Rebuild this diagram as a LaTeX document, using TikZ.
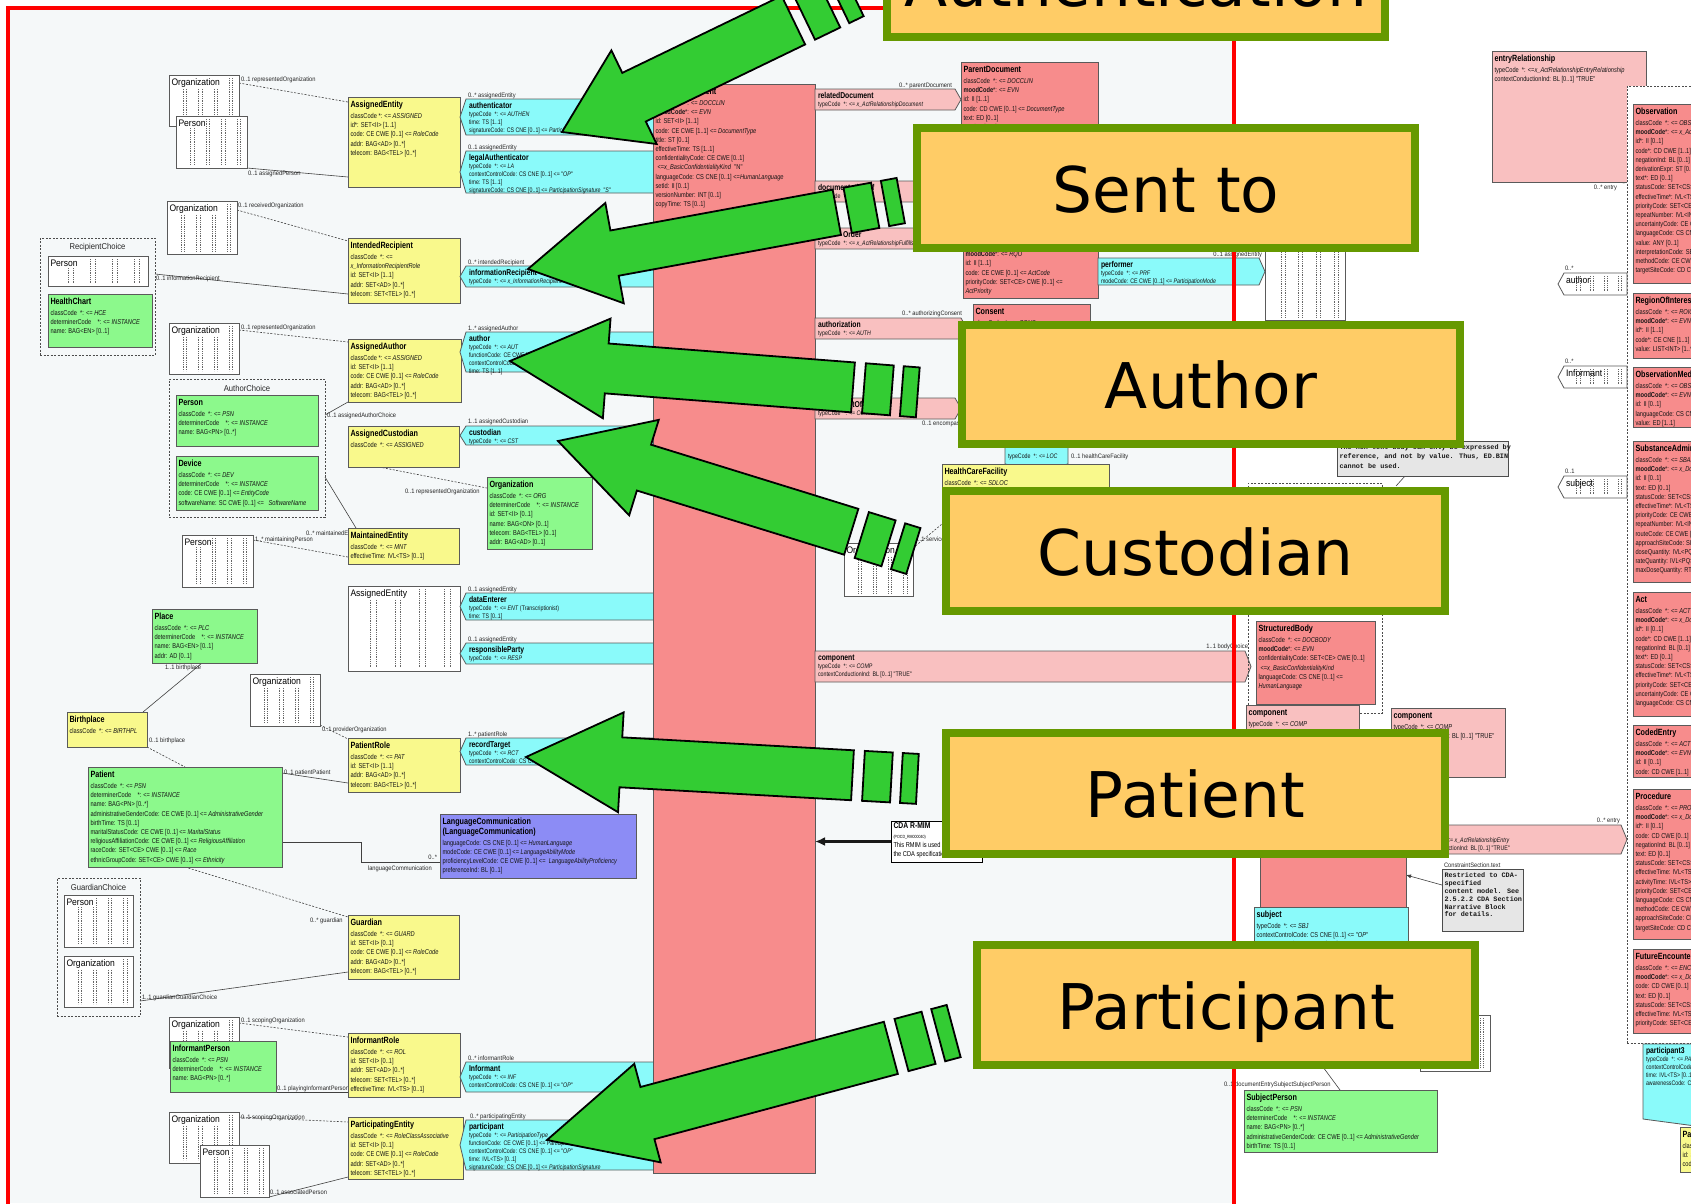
\documentclass[tikz,border=0pt]{standalone}
\usepackage{fontspec}
\setmainfont{Liberation Sans}
\newfontfamily\narrowf[FakeStretch=0.8]{Liberation Sans}
\newfontfamily\lblf[FakeStretch=0.9]{Liberation Sans}
\newfontfamily\calloutf{DejaVu Sans}
\newfontfamily\notef{Liberation Mono}
\usetikzlibrary{calc,arrows.meta}
\pgfdeclarelayer{bglayer}
\pgfdeclarelayer{linklayer}
\pgfdeclarelayer{toplayer}
\pgfsetlayers{bglayer,linklayer,main,toplayer}

\definecolor{panel}{HTML}{F5F8F9}
\definecolor{framered}{HTML}{FF0000}
\definecolor{clsyellow}{HTML}{F9F98C}
\definecolor{clsgreen}{HTML}{8CF98C}
\definecolor{clscyan}{HTML}{8AFAFA}
\definecolor{clspink}{HTML}{F78C8C}
\definecolor{clslpink}{HTML}{F9C0C0}
\definecolor{clsviolet}{HTML}{8C8CF5}
\definecolor{notegray}{HTML}{E6E6E6}
\definecolor{boxline}{HTML}{5A5A5A}
\definecolor{arrowgreen}{HTML}{33CC33}
\definecolor{calloutfill}{HTML}{FFCC66}
\definecolor{calloutline}{HTML}{669900}

\newcommand\ttlfont{\narrowf\bfseries\fontsize{9}{10}\selectfont}
\newcommand\attfont{\narrowf\fontsize{7.1}{9.2}\selectfont}
\newcommand\ptlfont{\narrowf\bfseries\fontsize{8.5}{9}\selectfont}
\newcommand\patfont{\narrowf\fontsize{6.6}{8}\selectfont}
\newcommand\lblfont{\lblf\fontsize{6.4}{7}\selectfont}
\newcommand\dottlfont{\lblf\fontsize{9.5}{10}\selectfont}
\newcommand\choicefont{\lblf\fontsize{8.5}{9}\selectfont}
\newcommand\calloutfont{\calloutf\fontsize{63}{70}\selectfont}
\newcommand\notefont{\notef\bfseries\fontsize{6.8}{9.3}\selectfont}

\tikzset{
  every node/.style={inner sep=0pt, outer sep=0pt},
  cls/.style={draw=boxline, line width=0.8pt, anchor=north west},
  ybox/.style={fill=clsyellow},
  gbox/.style={fill=clsgreen},
  pkbox/.style={fill=clspink},
  lpbox/.style={fill=clslpink},
  vbox/.style={fill=clsviolet},
  cbx/.style={fill=clscyan},
  ttl/.style={anchor=north west, align=left, font=\ttlfont, text=black},
  att/.style={anchor=north west, align=left, font=\attfont, text=black!92},
  ptl/.style={anchor=north west, align=left, font=\ptlfont, text=black},
  pat/.style={anchor=north west, align=left, font=\patfont, text=black!92},
  lbl/.style={anchor=base west, font=\lblfont, text=black!85},
  lblr/.style={lbl, anchor=base east},
  link/.style={draw=black!75, line width=0.6pt},
  dashlink/.style={link, dash pattern=on 2pt off 1.5pt},
  partshape/.style={draw=boxline, line width=0.8pt},
  choicebox/.style={draw=black!70, line width=0.6pt, dash pattern=on 2pt off 1.5pt, anchor=north west},
  choicettl/.style={font=\choicefont, text=black!85},
  dotline/.style={draw=black!60, line width=0.5pt, dash pattern=on 0.6pt off 1.2pt},
  garrow/.style={fill=arrowgreen, draw=black, line width=1.8pt, line join=miter},
  callout/.style={fill=calloutfill, draw=calloutline, line width=8pt},
  callouttext/.style={anchor=base, font=\calloutfont, text=black},
  notebox/.style={draw=black!70, fill=notegray, line width=0.7pt, anchor=north west},
  notetext/.style={anchor=north west, align=left, font=\notefont, text=black!90},
}

% class box: [body offset]{name}{style}{x}{y}{w}{h}{title}{attributes}
\newcommand\umlclass[9][15.5]{%
  \node[cls,#3,minimum width=#6pt,minimum height=#7pt] (#2) at (#4,#5) {};
  \node[ttl] (#2-t) at ([shift={(2.5pt,-2.5pt)}]#2.north west) {\rule{0pt}{8pt}#8};
  \node[att] (#2-b) at ([shift={(2.5pt,-#1pt)}]#2.north west) {\rule{0pt}{6pt}#9};
}
% participation pointing left: {name}{x}{y}{w}{h}{fill}{title}{attributes}
\newcommand\partleft[8]{%
  \node[minimum width=#4pt,minimum height=#5pt,anchor=north west] (#1) at (#2,#3) {};
  \filldraw[partshape,fill=#6] (#1.north west) -- (#1.north east) -- (#1.south east)
    -- (#1.south west) -- ([xshift=-6pt]#1.west) -- cycle;
  \node[ptl] (#1-t) at ([shift={(3pt,-1.5pt)}]#1.north west) {\rule{0pt}{8pt}#7};
  \node[pat] (#1-b) at ([shift={(3pt,-11.5pt)}]#1.north west) {\rule{0pt}{6pt}#8};
}
% act relationship pointing right
\newcommand\partright[8]{%
  \node[minimum width=#4pt,minimum height=#5pt,anchor=north west] (#1) at (#2,#3) {};
  \filldraw[partshape,fill=#6] (#1.north west) -- (#1.north east) -- ([xshift=6pt]#1.east)
    -- (#1.south east) -- (#1.south west) -- cycle;
  \node[ptl] (#1-t) at ([shift={(3pt,-1.5pt)}]#1.north west) {\rule{0pt}{8pt}#7};
  \node[pat] (#1-b) at ([shift={(3pt,-11.5pt)}]#1.north west) {\rule{0pt}{6pt}#8};
}
% dotted columns of a collapsed class
\newcommand\dotcols[1]{%
  \foreach \fr in {0.2,0.25,0.42,0.47,0.64,0.69,0.86,0.91}{%
    \draw[dotline] ($(#1.north west)!\fr!(#1.north east)+(0,-3pt)$) -- ($(#1.south west)!\fr!(#1.south east)+(0,3pt)$);}}
% collapsed class: {name}{x}{y}{w}{h}{title}
\newcommand\dotbox[6]{%
  \node[cls,fill=white,minimum width=#4pt,minimum height=#5pt] (#1) at (#2,#3) {};
  \dotcols{#1}
  \node[anchor=north west, font=\dottlfont, fill=white, inner sep=0.5pt] (#1-t) at ([shift={(2pt,-2pt)}]#1.north west) {\rule{0pt}{8pt}#6};
}
% collapsed participation pointing left
\newcommand\dotpart[4]{%
  \node[minimum width=63pt,minimum height=22pt,anchor=north west] (#1) at (#2,#3) {};
  \filldraw[partshape,fill=white] (#1.north west) -- (#1.north east) -- (#1.south east)
    -- (#1.south west) -- ([xshift=-6pt]#1.west) -- cycle;
  \dotcols{#1}
  \node[anchor=north west, font=\dottlfont] (#1-t) at ([shift={(2pt,-2pt)}]#1.north west) {\rule{0pt}{8pt}#4};
}
% block arrow: {tip x}{tip y}{angle}{head length}{head half width}{shaft half width}{shaft end}
\newcommand\blockarrow[7]{%
  \begin{scope}[shift={(#1,#2)}, rotate=#3]
    \draw[garrow] (0,0) -- (#4,#5) -- (#4,#6) -- (#7,#6) -- (#7,-#6) -- (#4,-#6) -- (#4,-#5) -- cycle;
    \draw[garrow] (#7+11,#6) -- (#7+39,#6) -- (#7+39,-#6) -- (#7+11,-#6) -- cycle;
    \draw[garrow] (#7+49,#6) -- (#7+65,#6) -- (#7+65,-#6) -- (#7+49,-#6) -- cycle;
  \end{scope}}

\begin{document}
\begin{tikzpicture}[x=1pt,y=-1pt]
\useasboundingbox (0,0) rectangle (1691,1203);

\begin{pgfonlayer}{bglayer}
  \fill[white] (0,0) rectangle (1691,1203);
  \fill[panel] (8,8) rectangle (1234,1203);
\end{pgfonlayer}

% ---------------- left column: roles, entities, participations
\dotbox{orgA}{169}{75}{70}{51}{Organization}
\dotbox{perA}{176}{116}{71}{52}{Person}
\umlclass{aent}{ybox}{348}{97}{112}{90}{AssignedEntity}{classCode *: <= \textit{ASSIGNED}\\id*: SET<II> [1..1]\\code: CE CWE [0..1] <= \textit{RoleCode}\\addr: BAG<AD> [0..*]\\telecom: BAG<TEL> [0..*]}
\partleft{authen}{466}{99}{189}{36}{clscyan}{authenticator}{typeCode \ *: <= \textit{AUTHEN}\\time: TS [1..1]\\signatureCode: CS CNE [0..1] <= \textit{ParticipationSignature}}
\partleft{legauth}{466}{151}{189}{42}{clscyan}{legalAuthenticator}{typeCode \ *: <= \textit{LA}\\contextControlCode: CS CNE [0..1] <= "\textit{OP}"\\time: TS [1..1]\\signatureCode: CS CNE [0..1] <= \textit{ParticipationSignature} \ "\textit{S}"}

\dotbox{orgB}{167}{201}{70}{53}{Organization}
\node[choicebox,minimum width=115pt,minimum height=117pt] (rchoice) at (40,238) {};
\node[choicettl] (rchoice-t) at ([yshift=-9pt]rchoice.north) {RecipientChoice};
\dotbox{perB}{48}{256}{100}{30}{Person}
\umlclass{hchart}{gbox}{48}{294}{104}{53}{HealthChart}{classCode \ *: <= \textit{HCE}\\determinerCode \ \ \ *: <= \textit{INSTANCE}\\name: BAG<EN> [0..1]}
\umlclass{irec}{ybox}{348}{238}{112}{65}{IntendedRecipient}{classCode \ *: <=\\\textit{x\_InformationRecipientRole}\\id: SET<II> [1..1]\\addr: SET<AD> [0..*]\\telecom: SET<TEL> [0..*]}
\partleft{inforec}{466}{266}{189}{21}{clscyan}{informationRecipient}{typeCode \ *: <= \textit{x\_InformationRecipientRole}}

\dotbox{orgC}{169}{323}{70}{51}{Organization}
\umlclass{aauth}{ybox}{348}{339}{113}{63}{AssignedAuthor}{classCode *: <= \textit{ASSIGNED}\\id: SET<II> [1..1]\\code: CE CWE [0..1] <= \textit{RoleCode}\\addr: BAG<AD> [0..*]\\telecom: BAG<TEL> [0..*]}
\partleft{authorp}{466}{332}{189}{40}{clscyan}{author}{typeCode \ *: <= \textit{AUT}\\functionCode: CE CWE [0..1] <= \textit{ParticipationFunction}\\contextControlCode: CS CNE [0..1] <= "\textit{OP}"\\time: TS [1..1]}
\node[choicebox,minimum width=156pt,minimum height=138pt] (achoice) at (169,379) {};
\node[choicettl] (achoice-t) at ([yshift=-9pt]achoice.north) {AuthorChoice};
\umlclass{aperson}{gbox}{176}{395}{142}{51}{Person}{classCode \ *: <= \textit{PSN}\\determinerCode \ \ \ *: <= \textit{INSTANCE}\\name: BAG<PN> [0..*]}
\umlclass{adevice}{gbox}{176}{456}{142}{54}{Device}{classCode \ *: <= \textit{DEV}\\determinerCode \ \ \ *: <= \textit{INSTANCE}\\code: CE CWE [0..1] <= \textit{EntityCode}\\softwareName: SC CWE [0..1] <= \ \ \textit{SoftwareName}}

\umlclass{acust}{ybox}{348}{426}{111}{41}{AssignedCustodian}{classCode \ *: <= \textit{ASSIGNED}}
\partleft{custp}{466}{426}{189}{19}{clscyan}{custodian}{typeCode \ *: <= \textit{CST}}
\umlclass{corg}{gbox}{487}{477}{105}{72}{Organization}{classCode \ *: <= \textit{ORG}\\determinerCode \ \ \ *: <= \textit{INSTANCE}\\id: SET<II> [0..1]\\name: BAG<ON> [0..1]\\telecom: BAG<TEL> [0..1]\\addr: BAG<AD> [0..1]}

\dotbox{perD}{182}{535}{71}{52}{Person}
\umlclass{maint}{ybox}{348}{528}{111}{36}{MaintainedEntity}{classCode \ *: <= \textit{MNT}\\effectiveTime: IVL<TS> [0..1]}
\dotbox{aentB}{348}{586}{112}{85}{AssignedEntity}
\partleft{dataent}{466}{593}{189}{27}{clscyan}{dataEnterer}{typeCode \ *: <= \textit{ENT} (Transcriptionist)\\time: TS [0..1]}
\partleft{respp}{466}{643}{189}{21}{clscyan}{responsibleParty}{typeCode \ *: <= \textit{RESP}}

\umlclass{place}{gbox}{152}{609}{105}{54}{Place}{classCode \ *: <= \textit{PLC}\\determinerCode \ \ \ *: <= \textit{INSTANCE}\\name: BAG<EN> [0..1]\\addr: AD [0..1]}
\dotbox{orgF}{250}{674}{70}{52}{Organization}
\umlclass{bplace}{ybox}{67}{712}{80}{35}{Birthplace}{classCode \ *: <= \textit{BIRTHPL}}
\umlclass{prole}{ybox}{348}{738}{112}{54}{PatientRole}{classCode \ *: <= \textit{PAT}\\id: SET<II> [1..1]\\addr: BAG<AD> [0..*]\\telecom: BAG<TEL> [0..*]}
\partleft{rtarget}{466}{738}{189}{27}{clscyan}{recordTarget}{typeCode \ *: <= \textit{RCT}\\contextControlCode: CS CNE [0..1] <= "\textit{OP}"}
\umlclass{patient}{gbox}{88}{767}{194}{100}{Patient}{classCode \ *: <= \textit{PSN}\\determinerCode \ \ \ *: <= \textit{INSTANCE}\\name: BAG<PN> [0..*]\\administrativeGenderCode: CE CWE [0..1] <= \textit{AdministrativeGender}\\birthTime: TS [0..1]\\maritalStatusCode: CE CWE [0..1] <= \textit{MaritalStatus}\\religiousAffiliationCode: CE CWE [0..1] <= \textit{ReligiousAffiliation}\\raceCode: SET<CE> CWE [0..1] <= \textit{Race}\\ethnicGroupCode: SET<CE> CWE [0..1] <= \textit{Ethnicity}}
\umlclass[25]{langc}{vbox}{440}{814}{196}{64}{LanguageCommunication\\(LanguageCommunication)}{languageCode: CS CNE [0..1] <= \textit{HumanLanguage}\\modeCode: CE CWE [0..1] <= \textit{LanguageAbilityMode}\\proficiencyLevelCode: CE CWE [0..1] <= \ \textit{LanguageAbilityProficiency}\\preferenceInd: BL [0..1]}

\node[choicebox,minimum width=83pt,minimum height=138pt] (gchoice) at (57,878) {};
\node[choicettl] (gchoice-t) at ([yshift=-9pt]gchoice.north) {GuardianChoice};
\dotbox{perG}{64}{895}{69}{52}{Person}
\dotbox{orgG}{64}{956}{69}{51}{Organization}
\umlclass{guard}{ybox}{348}{915}{111}{64}{Guardian}{classCode \ *: <= \textit{GUARD}\\id: SET<II> [0..1]\\code: CE CWE [0..1] <= \textit{RoleCode}\\addr: BAG<AD> [0..*]\\telecom: BAG<TEL> [0..*]}

\dotbox{orgH}{169}{1017}{70}{51}{Organization}
\umlclass{iperson}{gbox}{170}{1041}{106}{51}{InformantPerson}{classCode \ *: <= \textit{PSN}\\determinerCode \ \ \ *: <= \textit{INSTANCE}\\name: BAG<PN> [0..*]}
\umlclass{irole}{ybox}{348}{1033}{112}{64}{InformantRole}{classCode \ *: <= \textit{ROL}\\id: SET<II> [0..1]\\addr: SET<AD> [0..*]\\telecom: SET<TEL> [0..*]\\effectiveTime: IVL<TS> [0..1]}
\partleft{informp}{466}{1062}{189}{30}{clscyan}{Informant}{typeCode \ *: <= \textit{INF}\\contextControlCode: CS CNE [0..1] <= "\textit{OP}"}
\dotbox{orgI}{169}{1112}{70}{51}{Organization}
\dotbox{perI}{200}{1145}{69}{52}{Person}
\umlclass{pent}{ybox}{348}{1117}{115}{62}{ParticipatingEntity}{classCode \ *: <= \textit{RoleClassAssociative}\\id: SET<II> [0..1]\\code: CE CWE [0..1] <= \textit{RoleCode}\\addr: SET<AD> [0..*]\\telecom: SET<TEL> [0..*]}
\partleft{partp}{466}{1120}{189}{50}{clscyan}{participant}{typeCode \ *: <= \textit{ParticipationType}\\functionCode: CE CWE [0..1] <= \textit{ParticipationFunction}\\contextControlCode: CS CNE [0..1] <= "\textit{OP}"\\time: IVL<TS> [0..1]\\signatureCode: CS CNE [0..1] <= \textit{ParticipationSignature}}

% ---------------- centre: the document act and its relationships
\umlclass{cdoc}{pkbox}{653}{84}{162}{1089}{ClinicalDocument}{classCode \ *: <= \textit{DOCCLIN}\\\textbf{moodCode}*: <= \textit{EVN}\\id: SET<II> [1..1]\\code: CE CWE [1..1] <= \textit{DocumentType}\\title: ST [0..1]\\effectiveTime: TS [1..1]\\confidentialityCode: CE CWE [0..1]\\\hspace*{2pt}<=\textit{x\_BasicConfidentialityKind} \ "N"\\languageCode: CS CNE [0..1] <=\textit{HumanLanguage}\\setId: II [0..1]\\versionNumber: INT [0..1]\\copyTime: TS [0..1]}

\partright{reldoc}{815}{89}{140}{21}{clslpink}{relatedDocument}{typeCode \ *: <= \textit{x\_ActRelationshipDocument}}
\umlclass{pardoc}{pkbox}{961}{62}{137}{110}{ParentDocument}{classCode \ *: <= \textit{DOCCLIN}\\\textbf{moodCode}*: <= \textit{EVN}\\id: II [1..1]\\code: CD CWE [0..1] <= \textit{DocumentType}\\text: ED [0..1]\\setId: II [0..1]\\versionNumber: INT [0..1]}
\partright{docof}{815}{181}{110}{21}{clslpink}{documentationOf}{typeCode \ *: <= \textit{DOC}}
\partright{fulfil}{815}{228}{140}{21}{clslpink}{\hspace*{25pt}Order}{typeCode \ *: <= \textit{x\_ActRelationshipFulfills}}
\umlclass{order}{pkbox}{963}{226}{135}{72}{Order}{classCode \ *: <= \textit{ACT}\\\textbf{moodCode}*: <= \textit{RQO}\\id: II [1..1]\\code: CE CWE [0..1] <= \textit{ActCode}\\priorityCode: SET<CE> CWE [0..1] <=\\\textit{ActPriority}}
\dotbox{aentC}{1265}{195}{80}{125}{AssignedEntity}
\partright{perfp}{1098}{258}{161}{27}{clscyan}{performer}{typeCode \ *: <= \textit{PRF}\\modeCode: CE CWE [0..1] <= \textit{ParticipationMode}}
\partright{authz}{815}{318}{146}{21}{clslpink}{authorization}{typeCode \ *: <= \textit{AUTH}}
\umlclass{consent}{pkbox}{973}{304}{117}{60}{Consent}{classCode \ *: <= \textit{CONS}\\\textbf{moodCode}*: <= \textit{EVN}\\id: SET<II> [0..*]\\code: CE CWE [0..1] <= \textit{x\_ConsentType}}
\partright{compof}{815}{398}{140}{21}{clslpink}{componentOf}{typeCode \ *: <= \textit{COMP}}

\node[minimum width=63pt,minimum height=22pt,anchor=north west] (locp) at (1005,442) {};
\filldraw[partshape,fill=clscyan] (locp.north west) -- (locp.north east) -- (locp.south east)
  -- ([yshift=-6pt]locp.south) -- (locp.south west) -- cycle;
\node[pat,anchor=base west] (locp-b) at ([shift={(3pt,6pt)}]locp.south west) {typeCode \ *: <= \textit{LOC}};
\umlclass{hcf}{ybox}{942}{464}{167}{60}{HealthCareFacility}{classCode \ *: <= \textit{SDLOC}}
\dotbox{orgS}{844}{543}{69}{53}{Organization}
\partright{compA}{815}{651}{430}{31}{clslpink}{component}{typeCode \ *: <= \textit{COMP}\\contextConductionInd: BL [0..1] "TRUE"}

\node[anchor=north west,draw=black,line width=0.8pt,fill=white,minimum width=91pt,minimum height=41pt] (cdanote) at (891,821) {};
\node[anchor=north west,align=left,font=\attfont] (cdanote-t) at ([shift={(2.5pt,-2pt)}]cdanote.north west)
  {{\narrowf\bfseries\fontsize{8.5}{9}\selectfont CDA R-MIM}\\{\fontsize{4.5}{5}\selectfont (POCD\_RM000040)}\\This RMIM is used to derive\\the CDA specification.};
\draw[line width=2.5pt,draw=black!90,-{Latex[length=10pt,width=9pt]}] (cdanote.west) -- (cdoc.east |- cdanote.west);

% ---------------- right: body, section and entries
\umlclass{entrel}{lpbox}{1492}{51}{154}{131}{entryRelationship}{typeCode \ *: <=\textit{x\_ActRelationshipEntryRelationship}\\contextConductionInd: BL [0..1] "TRUE"}
\node[choicebox,fill=white,minimum width=80pt,minimum height=957pt] (choice) at (1627,86) {};
\umlclass{obs}{pkbox}{1633}{104}{100}{179}{Observation}{classCode \ *: <= \textit{OBS}\\\textbf{moodCode}*: <= \textit{x\_ActMoodDocumentObservation}\\id*: II [0..1]\\code*: CD CWE [1..1] <= \textit{ObservationType}\\negationInd: BL [0..1]\\derivationExpr: ST [0..1]\\text*: ED [0..1]\\statusCode: SET<CS> CNE [0..1]\\effectiveTime*: IVL<TS> [0..1]\\priorityCode: SET<CE> CWE [0..1]\\repeatNumber: IVL<INT> [0..1]\\uncertaintyCode: CE CNE [0..1]\\languageCode: CS CNE [0..1]\\value: ANY [0..1]\\interpretationCode: SET<CE> CWE\\methodCode: CE CWE [0..*]\\targetSiteCode: CD CWE [0..*]}
\umlclass{roi}{pkbox}{1633}{293}{100}{65}{RegionOfInterest}{classCode \ *: <= \textit{ROIOVL}\\\textbf{moodCode}*: <= \textit{EVN}\\id*: II [1..1]\\code*: CE CNE [1..1]\\value: LIST<INT> [1..*]}
\umlclass{obsmedia}{pkbox}{1633}{367}{100}{60}{ObservationMedia}{classCode \ *: <= \textit{OBS}\\\textbf{moodCode}*: <= \textit{EVN}\\id: II [0..1]\\languageCode: CS CNE [0..1]\\value: ED [1..1]}
\umlclass{sbadm}{pkbox}{1633}{441}{100}{141}{SubstanceAdministration}{classCode \ *: <= \textit{SBADM}\\\textbf{moodCode}*: <= \textit{x\_DocumentSubstanceMood}\\id: II [0..1]\\text: ED [0..1]\\statusCode: SET<CS> CNE [0..1]\\effectiveTime*: IVL<TS> [0..1]\\priorityCode: CE CWE [0..1]\\repeatNumber: IVL<INT> [0..1]\\routeCode: CE CWE [0..1]\\approachSiteCode: SET<CD>\\doseQuantity: IVL<PQ> [0..1]\\rateQuantity: IVL<PQ> [0..1]\\maxDoseQuantity: RTO<PQ>}
\umlclass{actc}{pkbox}{1633}{592}{100}{124}{Act}{classCode \ *: <= \textit{ACT}\\\textbf{moodCode}*: <= \textit{x\_DocumentActMood}\\id*: II [0..1]\\code*: CD CWE [1..1]\\negationInd: BL [0..1]\\text*: ED [0..1]\\statusCode: SET<CS> CNE\\effectiveTime*: IVL<TS> [0..1]\\priorityCode: SET<CE> CWE\\uncertaintyCode: CE CNE\\languageCode: CS CNE [0..1]}
\umlclass{coded}{pkbox}{1633}{725}{100}{52}{CodedEntry}{classCode \ *: <= \textit{ACT}\\\textbf{moodCode}*: <= \textit{EVN}\\id: II [0..1]\\code: CD CWE [1..1]}
\umlclass{proc}{pkbox}{1633}{789}{100}{150}{Procedure}{classCode \ *: <= \textit{PROC}\\\textbf{moodCode}*: <= \textit{x\_DocumentProcedureMood}\\id*: II [0..1]\\code: CD CWE [0..1]\\negationInd: BL [0..1]\\text: ED [0..1]\\statusCode: SET<CS> CNE\\effectiveTime: IVL<TS> [0..1]\\activityTime: IVL<TS> [0..1]\\priorityCode: SET<CE> CWE\\languageCode: CS CNE [0..1]\\methodCode: CE CWE [0..*]\\approachSiteCode: CD CWE\\targetSiteCode: CD CWE}
\umlclass{fenc}{pkbox}{1633}{949}{100}{84}{FutureEncounter}{classCode \ *: <= \textit{ENC}\\\textbf{moodCode}*: <= \textit{x\_DocumentEncounterMood}\\code: CD CWE [0..1]\\text: ED [0..1]\\statusCode: SET<CS> CNE\\effectiveTime: IVL<TS> [0..1]\\priorityCode: SET<CE> CWE}
\node[minimum width=60pt,minimum height=83pt,anchor=north west] (part3) at (1643,1044) {};
\filldraw[partshape,fill=clscyan] (part3.north west) -- (part3.north east) -- (part3.south east)
  -- ([yshift=8pt]part3.south west) -- cycle;
\node[ptl] (part3-t) at ([shift={(3pt,-1.5pt)}]part3.north west) {\rule{0pt}{8pt}participant3};
\node[pat] (part3-b) at ([shift={(3pt,-11.5pt)}]part3.north west) {\rule{0pt}{6pt}typeCode \ *: <= \textit{PART}\\contextControlCode: CS CNE\\time: IVL<TS> [0..1]\\awarenessCode: CE CWE};
\umlclass{prole3}{ybox}{1680}{1127}{60}{45}{ParticipantRole}{classCode *: <= \textit{ROL}\\id: SET<II> [0..*]\\code: CE CWE [0..1]}

\dotpart{sauthor}{1564}{273}{author}
\dotpart{sinform}{1564}{366}{Informant}
\dotpart{ssubject}{1564}{476}{subject}

\node[notebox,minimum width=171pt,minimum height=35pt] (bodynote) at (1337,441) {};
\node[notetext] (bodynote-t) at ([shift={(2.5pt,-3.5pt)}]bodynote.north west) {The non-text body can only be expressed by\\reference, and not by value. Thus, ED.BIN\\cannot be used.};
\node[choicebox,minimum width=134pt,minimum height=230pt] (bodychoice) at (1248,483) {};
\umlclass{sbody}{pkbox}{1256}{621}{119}{83}{StructuredBody}{classCode \ *: <= \textit{DOCBODY}\\\textbf{moodCode}*: <= \textit{EVN}\\confidentialityCode: SET<CE> CWE [0..1]\\\hspace*{2pt}<=\textit{x\_BasicConfidentialityKind}\\languageCode: CS CNE [0..1] <=\\\textit{HumanLanguage}}
\umlclass{compB}{lpbox}{1246}{705}{113}{40}{component}{typeCode \ *: <= \textit{COMP}}
\umlclass{compC}{lpbox}{1391}{708}{114}{69}{component}{typeCode \ *: <= \textit{COMP}\\contextConductionInd: BL [0..1] "TRUE"}
\umlclass{section}{pkbox}{1260}{780}{146}{127}{Section}{classCode \ *: <= \textit{DOCSECT}\\\textbf{moodCode}*: <= \textit{EVN}\\id: II [0..1]\\code: CE CWE [0..1]\\title: ST [0..1]}
\partright{entryp}{1413}{825}{208}{29}{clslpink}{entry}{typeCode \ *: <= \textit{x\_ActRelationshipEntry}\\contextConductionInd: BL [0..1] "TRUE"}
\node[notebox,minimum width=81pt,minimum height=62pt] (csnote) at (1442,869) {};
\node[notetext,font=\notef\bfseries\fontsize{6.8}{7.8}\selectfont] (csnote-t) at ([shift={(2.5pt,-4pt)}]csnote.north west) {Restricted to CDA-\\specified\\content model. See\\2.5.2.2 CDA Section\\Narrative Block\\for details.};
\umlclass{subj}{cbx}{1254}{907}{154}{45}{subject}{typeCode \ *: <= \textit{SBJ}\\contextControlCode: CS CNE [0..1] <= "\textit{OP}"\\awarenessCode: CE CWE [0..1]}
\dotbox{dotR}{1420}{1015}{70}{56}{}
\coordinate (subjlink) at (1323,1067);
\umlclass{sperson}{gbox}{1244}{1090}{193}{62}{SubjectPerson}{classCode \ *: <= \textit{PSN}\\determinerCode \ \ \ *: <= \textit{INSTANCE}\\name: BAG<PN> [0..*]\\administrativeGenderCode: CE CWE [0..1] <= \textit{AdministrativeGender}\\birthTime: TS [0..1]}

% ---------------- associations and their labels
\begin{pgfonlayer}{linklayer}
  \draw[dashlink] ([yshift=-8pt]orgA.north east) -- ([yshift=-5pt]aent.north west);
  \draw[link] (perA.south east) -- ([yshift=10pt]aent.south west);
  \draw[dashlink] ([yshift=-9pt]orgB.north east) -- ([yshift=-3pt]irec.north west);
  \draw[link] ([yshift=-36pt]rchoice.north east) -- ([yshift=9pt]irec.south west);
  \draw[dashlink] ([yshift=-7pt]orgC.north east) -- ([yshift=-3pt]aauth.north west);
  \draw[link] ([yshift=-36pt]achoice.north east) -- (aauth.south west);
  \draw[link] ([yshift=-98pt]achoice.north east) -- ([xshift=8pt]maint.north west);
  \draw[dashlink] ([xshift=31pt]acust.south west) -- ([yshift=-11pt]corg.north west);
  \draw[dashlink] ([yshift=-5pt]perD.north east) -- ([yshift=-29pt]maint.north west);
  \draw[link] ([xshift=50pt]place.south west) -- ([xshift=-4pt]bplace.north east);
  \draw[dashlink] ([yshift=1pt]orgF.south east) -- ([yshift=-1pt]prole.north west);
  \draw[dashlink] (bplace.south east) -- ([xshift=97pt]patient.north west);
  \draw[link] ([yshift=-6pt]patient.north east) -- ([yshift=9pt]prole.south west);
  \draw[link] ([yshift=-75pt]patient.north east) -- ++(79,0) |- ([yshift=16pt]langc.south west);
  \draw[dashlink] ([xshift=97pt]patient.south west) -- ([yshift=-2pt]guard.north west);
  \draw[link] ([yshift=15pt]gchoice.south east) -- ([yshift=7pt]guard.south west);
  \draw[dashlink] ([yshift=-6pt]orgH.north east) -- ([yshift=-4pt]irole.north west);
  \draw[link] (iperson.south east) -- ([yshift=5pt]irole.south west);
  \draw[dashlink] ([yshift=-5pt]orgI.north east) -- ([yshift=-5pt]pent.north west);
  \draw[link] (perI.south east) -- ([yshift=2pt]pent.south west);
  \draw[dashlink] ([yshift=-5pt]orgS.north east) -- (hcf.south west);
  \draw[link] ([xshift=68pt]bodynote.south west) -- ++(-9,10);
  \draw[link,-{Latex[length=5pt,width=4pt]}] ([yshift=-16pt]csnote.north west) -- ([yshift=-95pt]section.north east);
  \draw[link] (subjlink) -- ([xshift=96pt]sperson.north west);
  \draw[link,-{Latex[length=4pt,width=3pt]}] ([xshift=-26pt,yshift=1pt]entrel.south east) -- ([yshift=-97pt]choice.north west);

  \node[lbl] (l1) at (241,81) {0..1 representedOrganization};
  \node[lbl] (l2) at (248,175) {0..1 assignedPerson};
  \node[lbl] (l3) at (238,207) {0..1 receivedOrganization};
  \node[lbl] (l4) at (156,280) {0..1 informationRecipient};
  \node[lbl] (l5) at (241,329) {0..1 representedOrganization};
  \node[lbl] (l6) at (327,417) {0..1 assignedAuthorChoice};
  \node[lbl] (l7) at (405,493) {0..1 representedOrganization};
  \node[lbl] (l8) at (306,535) {0..* maintainedEntity};
  \node[lbl] (l9) at (255,541) {1..* maintainingPerson};
  \node[lbl] (l10) at (165,669) {1..1 birthplace};
  \node[lbl] (l11) at (322,731) {0..1 providerOrganization};
  \node[lbl] (l12) at (149,742) {0..1 birthplace};
  \node[lbl] (l13) at (284,774) {0..1 patientPatient};
  \node[lblr] (l14) at (437,859) {0..*};
  \node[lbl] (l15) at (368,870) {languageCommunication};
  \node[lbl] (l16) at (310,922) {0..* guardian};
  \node[lbl] (l17) at (142,999) {1..1 guardianGuardianChoice};
  \node[lbl] (l18) at (241,1022) {0..1 scopingOrganization};
  \node[lbl] (l19) at (277,1090) {0..1 playingInformantPerson};
  \node[lbl] (l20) at (241,1119) {0..1 scopingOrganization};
  \node[lbl] (l21) at (270,1194) {0..1 associatedPerson};
  \node[lbl] (l22) at (468,97) {0..* assignedEntity};
  \node[lbl] (l23) at (468,149) {0..1 assignedEntity};
  \node[lbl] (l24) at (468,264) {0..* intendedRecipient};
  \node[lbl] (l25) at (468,330) {1..* assignedAuthor};
  \node[lbl] (l26) at (468,423) {1..1 assignedCustodian};
  \node[lbl] (l27) at (468,591) {0..1 assignedEntity};
  \node[lbl] (l28) at (468,641) {0..1 assignedEntity};
  \node[lbl] (l29) at (468,736) {1..* patientRole};
  \node[lbl] (l30) at (468,1060) {0..* informantRole};
  \node[lbl] (l31) at (470,1118) {0..* participatingEntity};
  \node[lblr] (l32) at (952,87) {0..* parentDocument};
  \node[lblr] (l33) at (1262,256) {0..1 assignedEntity};
  \node[lblr] (l34) at (962,315) {0..* authorizingConsent};
  \node[lbl] (l35) at (922,425) {0..1 encompassingEncounter};
  \node[lbl] (l36) at (1071,458) {0..1 healthCareFacility};
  \node[lbl] (l37) at (915,541) {0..1 serviceProviderOrganization};
  \node[lblr] (l38) at (1248,648) {1..1 bodyChoice};
  \node[lblr] (l39) at (1620,822) {0..* entry};
  \node[lblr] (l40) at (1617,189) {0..* entry};
  \node[lbl] (l41) at (1444,867) {ConstraintSection.text};
  \node[lbl] (l42) at (1565,270) {0..*};
  \node[lbl] (l43) at (1565,363) {0..*};
  \node[lbl] (l44) at (1565,473) {0..1};
  \node[lbl] (l45) at (1224,1086) {0..1 documentEntrySubjectSubjectPerson};
\end{pgfonlayer}

% ---------------- frame, pointers and captions
\begin{pgfonlayer}{toplayer}
  \draw[framered,line width=4.5pt] (8,1210) -- (8,8) -- (1234,8) -- (1234,1210);

  \blockarrow{562}{132}{25.8}{80}{52}{27}{257}
  \blockarrow{528}{269}{10.4}{88}{51}{23}{314}
  \blockarrow{510}{361}{-4.4}{97}{50}{25}{344}
  \blockarrow{558}{441}{-17.2}{90}{50}{24}{307}
  \blockarrow{526}{757}{-3.2}{95}{50}{25}{327}
  \blockarrow{547}{1140}{15}{104}{51}{27}{356}

  \node[callout,minimum width=498pt,minimum height=120pt] (cAuthn) at (1136,-23) {};
  \node[callouttext] (cAuthn-t) at (1136,6) {Authentication};
  \node[callout,minimum width=498pt,minimum height=120pt] (cSent) at (1166,188) {};
  \node[callouttext] (cSent-t) at (1166,212) {Sent to};
  \node[callout,minimum width=498pt,minimum height=119pt] (cAuthor) at (1211,384.5) {};
  \node[callouttext] (cAuthor-t) at (1211,408) {Author};
  \node[callout,minimum width=499pt,minimum height=120pt] (cCust) at (1195.5,551) {};
  \node[callouttext] (cCust-t) at (1195.5,575) {Custodian};
  \node[callout,minimum width=499pt,minimum height=121pt] (cPat) at (1195.5,793.5) {};
  \node[callouttext] (cPat-t) at (1195.5,817) {Patient};
  \node[callout,minimum width=498pt,minimum height=120pt] (cPart) at (1226,1005) {};
  \node[callouttext] (cPart-t) at (1226,1029) {Participant};
\end{pgfonlayer}
\end{tikzpicture}
\end{document}
